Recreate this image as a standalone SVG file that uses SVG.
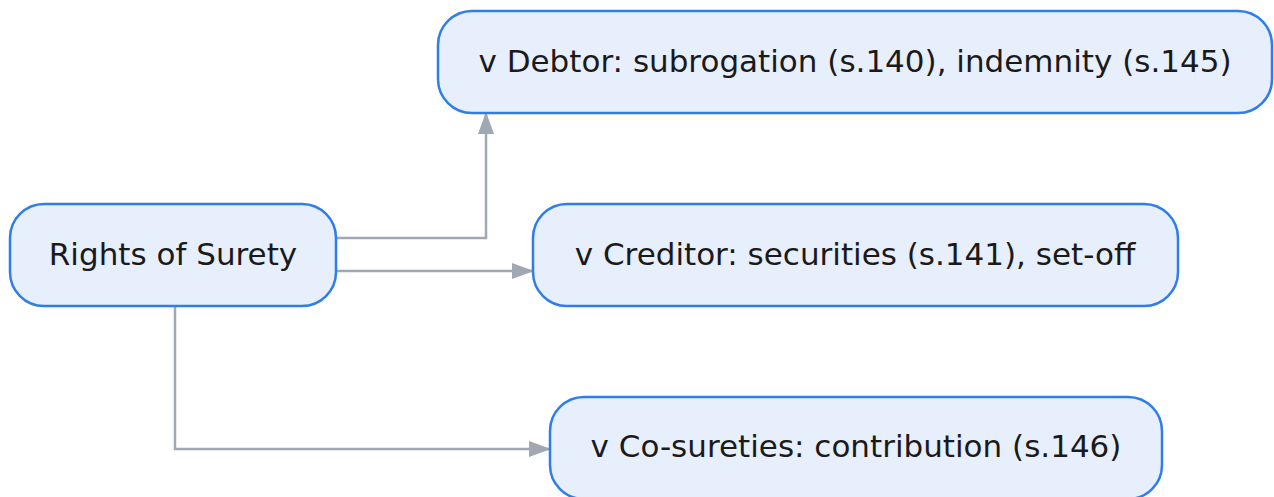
<svg xmlns="http://www.w3.org/2000/svg" width="1274" height="497" viewBox="0 0 1274 497">
  <style>
    .node rect { fill: #e8effc; stroke: #2f7de9; stroke-width: 2.5; }
    .node text { font-family: "DejaVu Sans", sans-serif; font-size: 31px; fill: #1a1a1a; text-anchor: middle; dominant-baseline: central; }
    .edge { fill: none; stroke: #a0a8b4; stroke-width: 2.5; marker-end: url(#arrow); }
  </style>
  <defs>
    <marker id="arrow" viewBox="0 0 22 16" refX="21" refY="8" markerWidth="22" markerHeight="16" markerUnits="userSpaceOnUse" orient="auto">
      <path d="M0,0 L22,8 L0,16 Z" fill="#a0a8b4"/>
    </marker>
  </defs>
  <rect width="1274" height="497" fill="#ffffff"/>
  <g id="connectors">
    <path class="edge" d="M336,238 H486 V113"/>
    <path class="edge" d="M336,271 H533"/>
    <path class="edge" d="M175,306 V449 H550"/>
  </g>
  <g id="node-surety" class="node">
    <rect x="10" y="204" width="326" height="102" rx="34"/>
    <text x="173" y="254">Rights of Surety</text>
  </g>
  <g id="node-debtor" class="node">
    <rect x="438" y="11" width="834" height="102" rx="34"/>
    <text x="855" y="61">v Debtor: subrogation (s.140), indemnity (s.145)</text>
  </g>
  <g id="node-creditor" class="node">
    <rect x="533" y="204" width="645" height="102" rx="34"/>
    <text x="855" y="254">v Creditor: securities (s.141), set-off</text>
  </g>
  <g id="node-cosureties" class="node">
    <rect x="550" y="397" width="612" height="102" rx="34"/>
    <text x="856" y="446">v Co-sureties: contribution (s.146)</text>
  </g>
</svg>
